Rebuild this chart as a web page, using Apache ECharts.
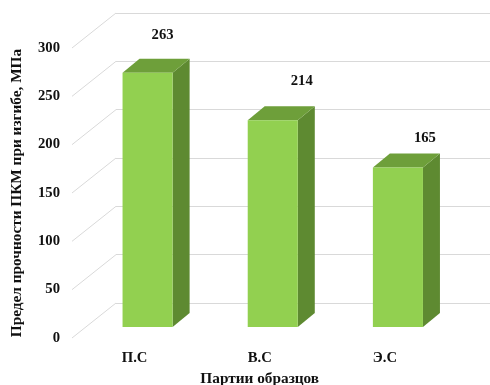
<!DOCTYPE html>
<html>
<head>
<meta charset="utf-8">
<script src="https://cdn.jsdelivr.net/npm/echarts@6/dist/echarts.min.js"></script>
<style>html,body{margin:0;padding:0;background:#fff}#c{width:490px;height:385px}</style>
</head>
<body>
<div id="c"></div>
<script>
// ---- data ----
var categories = ['П.С', 'В.С', 'Э.С'];
var values = [263, 214, 165];
var yTicks = [0, 50, 100, 150, 200, 250, 300];
var yTitle = 'Предел прочности ПКМ при изгибе, МПа';
var xTitle = 'Партии образцов';

// ---- layout / style (not data) ----
var FONT = 'Liberation Serif';
var FS = 14.67;
var DEPTH = [44, -35];      // floor depth offset (front -> back wall)
var BAR_OFF = [13, -11];    // bar front face offset from front plane
var BAR_DEPTH = [17, -14];  // bar own depth
var LABEL_NUDGE = [[28, -49], [42, -50], [40, -40]];
var C_FRONT = '#92D050', C_SIDE = '#5E8A31', C_TOP = '#6E9F3A';

var chart = echarts.init(document.getElementById('c'), null, {renderer: 'canvas'});
var txt = {fontFamily: FONT, fontWeight: 'bold', fontSize: FS, color: '#111'};
var titleTxt = {fontFamily: FONT, fontWeight: 'bold', fontSize: 15.3, color: '#111'};

chart.setOption({
  animation: false,
  grid: [
    {left: 72, right: 42.5, top: 48, bottom: 47, outerBoundsMode: 'none', containLabel: false},
    {left: 116, right: 0, top: 13, bottom: 82, outerBoundsMode: 'none', containLabel: false}
  ],
  xAxis: [
    {type: 'category', gridIndex: 0, data: categories,
     axisLine: {show: false}, axisTick: {show: false},
     axisLabel: Object.assign({margin: 13}, txt),
     name: xTitle, nameLocation: 'middle', nameGap: 34, nameTextStyle: titleTxt},
    {type: 'category', gridIndex: 1, data: categories, show: false}
  ],
  yAxis: [
    {type: 'value', gridIndex: 0, min: 0, max: 300, interval: 50,
     axisLine: {show: false}, axisTick: {show: false}, splitLine: {show: false},
     axisLabel: Object.assign({margin: 12}, txt),
     name: yTitle, nameLocation: 'middle', nameGap: 47.5, nameTextStyle: titleTxt},
    {type: 'value', gridIndex: 1, min: 0, max: 300, interval: 50,
     axisLine: {show: false}, axisTick: {show: false}, axisLabel: {show: false},
     splitLine: {show: true, lineStyle: {color: '#D9D9D9', width: 1}}}
  ],
  series: [
    {
      type: 'custom', xAxisIndex: 0, yAxisIndex: 0, z: 1,
      data: yTicks.map(function (t) { return [0, t]; }),
      renderItem: function (params, api) {
        var p = api.coord([0, api.value(1)]);
        var x0 = params.coordSys.x;
        return {type: 'line', shape: {x1: x0, y1: p[1], x2: x0 + DEPTH[0], y2: p[1] + DEPTH[1]},
                style: {stroke: '#D9D9D9', lineWidth: 1}};
      }
    },
    {
      type: 'custom', xAxisIndex: 0, yAxisIndex: 0, z: 5,
      data: values.map(function (v, i) { return [i, v]; }),
      renderItem: function (params, api) {
        var i = api.value(0), v = api.value(1);
        var top = api.coord([i, v]);
        var base = api.coord([i, 0]);
        var bw = api.size([1, 0])[0] * 0.4;
        var cx = top[0] + BAR_OFF[0];
        var x0 = cx - bw / 2, x1 = cx + bw / 2;
        var yT = top[1] + BAR_OFF[1], yB = base[1] + BAR_OFF[1];
        var dx = BAR_DEPTH[0], dy = BAR_DEPTH[1];
        var n = LABEL_NUDGE[i] || [35, -46];
        return {type: 'group', children: [
          {type: 'polygon', shape: {points: [[x1, yT], [x1 + dx, yT + dy], [x1 + dx, yB + dy], [x1, yB]]},
           style: {fill: C_SIDE}},
          {type: 'polygon', shape: {points: [[x0, yT], [x0 + dx, yT + dy], [x1 + dx, yT + dy], [x1, yT]]},
           style: {fill: C_TOP}},
          {type: 'rect', shape: {x: x0, y: yT, width: bw, height: yB - yT},
           style: {fill: C_FRONT}},
          {type: 'text', x: top[0] + n[0], y: top[1] + n[1],
           style: {text: String(v), fontFamily: FONT, fontWeight: 'bold', fontSize: FS,
                   fill: '#111', align: 'center', verticalAlign: 'middle'}}
        ]};
      }
    }
  ]
});
</script>
</body>
</html>
